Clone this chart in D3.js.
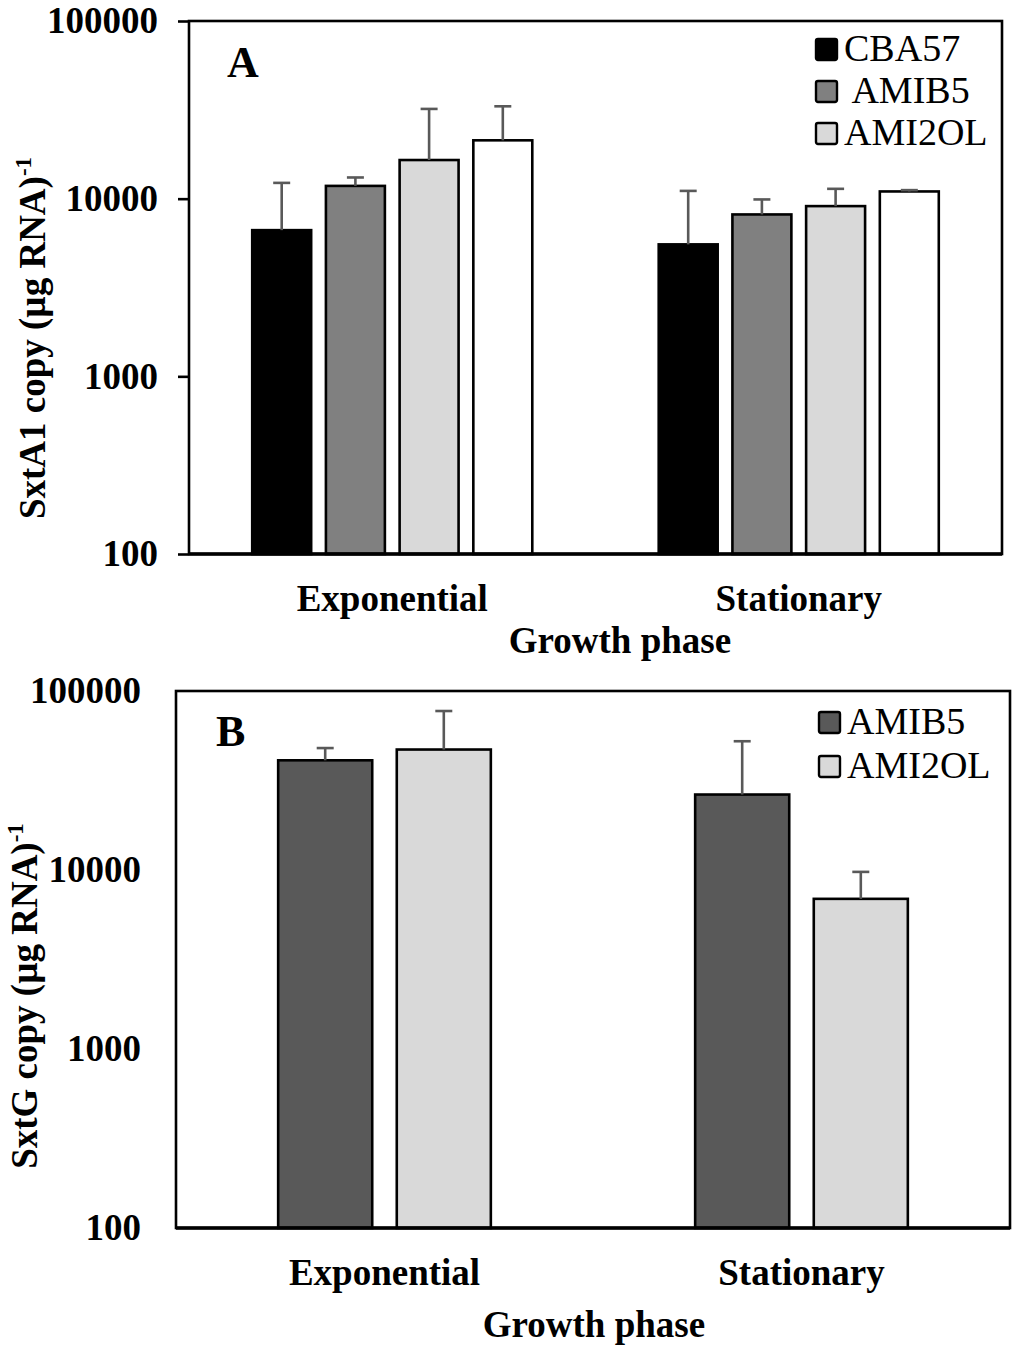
<!DOCTYPE html>
<html>
<head>
<meta charset="utf-8">
<script src="https://cdn.jsdelivr.net/npm/d3@7"></script>
<style>
  body { margin: 0; background: #fff; }
  text { font-family: "Liberation Serif", "Times New Roman", serif; fill: #000; }
</style>
</head>
<body>
<svg id="chart" width="1024" height="1354"></svg>
<script>
// growth phases (x categories) and log y ticks
const phases = ["Exponential", "Stationary"];
const yTicks = [100, 1000, 10000, 100000];

// panel A : sxtA1
const seriesA = ["CBA57", "AMIB5", "AMI2OL", "Series4"];
const legendA = ["CBA57", " AMIB5", "AMI2OL"];
const sxtA1Exponential = [6650, 11800, 16500, 21300];
const sxtA1ExponentialErr = [5620, 1360, 15500, 11800];
const sxtA1Stationary = [5530, 8150, 9080, 10980];
const sxtA1StationaryErr = [5530, 1750, 2280, 190];

// panel B : sxtG
const seriesB = ["AMIB5", "AMI2OL"];
const legendB = ["AMIB5", "AMI2OL"];
const sxtGExponential = [41000, 47100];
const sxtGExponentialErr = [7000, 30200];
const sxtGStationary = [26400, 6900];
const sxtGStationaryErr = [26000, 2860];

const svg = d3.select("#chart");

function drawPanel(p) {
    let g = svg.append("g");

    let y = d3.scaleLog().domain([100, 100000]).range([p.bottom, p.top]);
    let x0 = d3.scaleBand().domain(phases).range([p.left, p.right]);
    let groupW = x0.bandwidth() * p.groupFrac;
    let x1 = d3.scaleBand().domain(p.series).range([0, groupW]).paddingInner(p.inner);
    let off = (x0.bandwidth() - groupW) / 2;

    let rows = [];
    phases.forEach((ph, i) => {
        p.series.forEach((s, j) => {
            rows.push({ phase: ph, series: s, value: p.values[i][j], err: p.errs[i][j], color: p.colors[j] });
        });
    });

    // bars
    g.selectAll("rect.bar")
        .data(rows)
        .join("rect")
        .attr("class", "bar")
        .attr("x", d => x0(d.phase) + off + x1(d.series))
        .attr("y", d => y(d.value))
        .attr("width", x1.bandwidth())
        .attr("height", d => p.bottom - y(d.value))
        .style("fill", d => d.color)
        .style("stroke", "#000")
        .style("stroke-width", 2.6);

    // error bars (upper only)
    let eb = g.selectAll("g.err")
        .data(rows)
        .join("g")
        .attr("class", "err")
        .attr("transform", d => "translate(" + (x0(d.phase) + off + x1(d.series) + x1.bandwidth() / 2) + ",0)");
    eb.append("line")
        .attr("y1", d => y(d.value))
        .attr("y2", d => y(d.value + d.err))
        .style("stroke", "#595959").style("stroke-width", 2.6);
    eb.append("line")
        .attr("x1", -8.5).attr("x2", 8.5)
        .attr("y1", d => y(d.value + d.err))
        .attr("y2", d => y(d.value + d.err))
        .style("stroke", "#595959").style("stroke-width", 2.6);

    // frame
    g.append("rect")
        .attr("x", p.left).attr("y", p.top)
        .attr("width", p.right - p.left).attr("height", p.bottom - p.top)
        .style("fill", "none").style("stroke", "#000").style("stroke-width", 2.6);
    g.append("line")
        .attr("x1", p.left).attr("x2", p.right)
        .attr("y1", p.bottom).attr("y2", p.bottom)
        .style("stroke", "#000").style("stroke-width", 3.4);

    // y axis
    let yAxis = g.append("g")
        .attr("transform", "translate(" + p.left + ",0)")
        .call(d3.axisLeft(y).tickValues(yTicks).tickFormat(d3.format("d"))
            .tickSize(p.tickSize).tickPadding(p.tickPadding));
    yAxis.select(".domain").remove();
    yAxis.selectAll("line").style("stroke", "#000").style("stroke-width", 2.6);
    yAxis.selectAll("text")
        .style("font-family", "'Liberation Serif', serif")
        .style("font-size", "37px").style("font-weight", "bold");

    // x axis labels
    let xAxis = g.append("g")
        .attr("transform", "translate(0," + p.bottom + ")")
        .call(d3.axisBottom(x0).tickSize(0).tickPadding(31));
    xAxis.select(".domain").remove();
    xAxis.selectAll("text")
        .style("font-family", "'Liberation Serif', serif")
        .style("font-size", "37px").style("font-weight", "bold");

    // axis titles
    g.append("text")
        .attr("x", p.xTitleX).attr("y", p.xTitleY)
        .attr("text-anchor", "middle")
        .style("font-size", "37px").style("font-weight", "bold")
        .text("Growth phase");

    let yt = g.append("text")
        .attr("transform", "translate(" + p.yTitleX + "," + p.yTitleY + ") rotate(-90)")
        .attr("text-anchor", "middle")
        .style("font-size", "37px").style("font-weight", "bold");
    yt.append("tspan").text(p.yTitle);
    yt.append("tspan").attr("dy", -14).style("font-size", "23px").text("-1");

    // panel letter
    g.append("text")
        .attr("x", p.letterX).attr("y", p.letterY)
        .style("font-size", "44px").style("font-weight", "bold")
        .text(p.letter);

    // legend
    let lg = g.selectAll("g.leg")
        .data(p.legend)
        .join("g")
        .attr("class", "leg")
        .attr("transform", (d, i) => "translate(" + p.legX + "," + (p.legY + i * p.legStep) + ")");
    lg.append("rect")
        .attr("x", 0).attr("y", -21).attr("width", 21).attr("height", 21).attr("rx", 2)
        .style("fill", (d, i) => p.colors[i])
        .style("stroke", "#000").style("stroke-width", 2.4);
    lg.append("text")
        .attr("x", 28).attr("y", 1)
        .attr("xml:space", "preserve")
        .style("white-space", "pre")
        .style("font-size", "38px")
        .text(d => d);
}

drawPanel({
    left: 189, right: 1002, top: 21, bottom: 554,
    series: seriesA, legend: legendA,
    values: [sxtA1Exponential, sxtA1Stationary],
    errs: [sxtA1ExponentialErr, sxtA1StationaryErr],
    colors: ["#000000", "#808080", "#d9d9d9", "#ffffff"],
    groupFrac: 0.689, inner: 0.2,
    tickSize: 11, tickPadding: 20,
    xTitleX: 620, xTitleY: 653,
    yTitle: "SxtA1 copy (\u00b5g RNA)", yTitleX: 45, yTitleY: 338,
    letter: "A", letterX: 227, letterY: 77,
    legX: 816, legY: 60, legStep: 42
});

drawPanel({
    left: 176, right: 1010, top: 691, bottom: 1228,
    series: seriesB, legend: legendB,
    values: [sxtGExponential, sxtGStationary],
    errs: [sxtGExponentialErr, sxtGStationaryErr],
    colors: ["#595959", "#d9d9d9"],
    groupFrac: 0.51, inner: 0.207,
    tickSize: 0, tickPadding: 35,
    xTitleX: 594, xTitleY: 1337,
    yTitle: "SxtG copy (\u00b5g RNA)", yTitleX: 37, yTitleY: 996,
    letter: "B", letterX: 216, letterY: 746,
    legX: 819, legY: 733, legStep: 44
});
</script>
</body>
</html>
